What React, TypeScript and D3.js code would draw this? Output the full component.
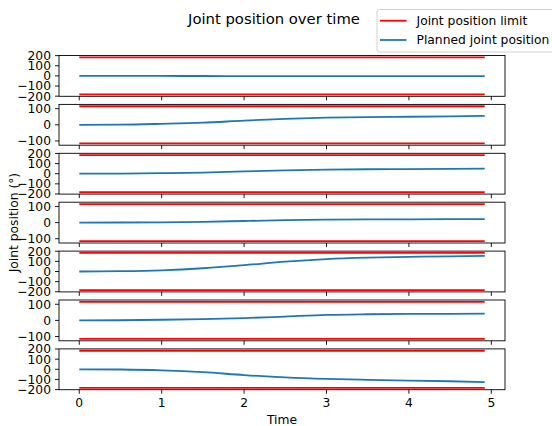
import React from 'react'
import * as d3 from 'd3'

// time stamps of the planned trajectory
const times = [0, 0.5, 1, 1.5, 2, 2.5, 3, 3.5, 4, 4.5, 4.92]

// planned joint positions in degrees, one array per joint
const joint1 = [0, 0, -0.5, -1, -1.5, -2, -2.5, -3, -3, -3, -3]
const joint2 = [0, 1, 6, 13, 26, 37, 44, 48, 50, 52, 55]
const joint3 = [0, 1, 5, 11, 23, 33, 40, 44, 46, 48, 50]
const joint4 = [0, 0.5, 2, 5, 10, 15, 18, 20, 20.5, 21, 22]
const joint5 = [0, 3, 12, 32, 62, 98, 123, 137, 145, 150, 155]
const joint6 = [0, 1, 4, 8, 14, 24, 34, 38, 40, 41, 42]
const joint7 = [0, -2, -10, -28, -57, -80, -95, -104, -111, -118, -127]

const planned = [joint1, joint2, joint3, joint4, joint5, joint6, joint7]
const jointLimits = [183, 115, 183, 115, 183, 115, 183]

const wideTicks = [-200, -100, 0, 100, 200]
const narrowTicks = [-100, 0, 100]
const xTicks = [0, 1, 2, 3, 4, 5]

const W = 552
const H = 426
const left = 59
const right = 505
const firstTop = 55.5
const step = 48.9
const plotH = 40.8

const font = 'DejaVu Sans, sans-serif'
const fs = 12.3
const fmt = d3.format('d')

function Subplot({ idx, values, limit }: { idx: number; values: number[]; limit: number }) {
  const top = firstTop + idx * step
  const bottom = top + plotH
  const last = idx === planned.length - 1

  const [t0, t1] = d3.extent(times) as [number, number]
  const pad = (t1 - t0) * 0.05
  const x = d3.scaleLinear().domain([t0 - pad, t1 + pad]).range([left, right])
  const y = d3.scaleLinear().domain([-limit * 1.1, limit * 1.1]).range([bottom, top])

  const line = d3.line<number>()
    .x((d, i) => x(times[i]))
    .y(d => y(d))
    .curve(d3.curveMonotoneX)

  const yTicks = limit > 150 ? wideTicks : narrowTicks
  const clipId = `clip-${idx}`

  return (
    <g>
      <clipPath id={clipId}>
        <rect x={left} y={top} width={right - left} height={plotH} />
      </clipPath>
      <g clipPath={`url(#${clipId})`}>
        {[limit, -limit].map(l => (
          <line key={l} x1={x(t0)} x2={x(t1)} y1={y(l)} y2={y(l)}
            stroke="#ff0000" strokeWidth={1.8} />
        ))}
        <path d={line(values) || ''} stroke="#1f77b4" strokeWidth={1.8} fill="none" />
      </g>
      <rect x={left} y={top} width={right - left} height={plotH} fill="none" stroke="#000" strokeWidth={0.9} />
      {yTicks.map(v => (
        <g key={v} transform={`translate(${left},${y(v)})`}>
          <line x1={-4} x2={0} stroke="#000" strokeWidth={0.9} />
          <text x={-8} dy="0.36em" textAnchor="end" fontSize={fs} fontFamily={font}>{fmt(v)}</text>
        </g>
      ))}
      {xTicks.map(v => (
        <g key={v} transform={`translate(${x(v)},${bottom})`}>
          <line y1={0} y2={4} stroke="#000" strokeWidth={0.9} />
          {last && (
            <text y={17.8} textAnchor="middle" fontSize={fs} fontFamily={font}>{fmt(v)}</text>
          )}
        </g>
      ))}
    </g>
  )
}

export default function App() {
  const axisMid = (firstTop + (firstTop + (planned.length - 1) * step + plotH)) / 2
  return (
    <svg width={W} height={H} style={{ position: 'absolute', left: 0, top: 0, background: '#fff' }}>
      <rect width={W} height={H} fill="#fff" />
      <text x={274} y={23.8} textAnchor="middle" fontSize={14.8} fontFamily={font}>Joint position over time</text>

      {planned.map((vals, i) => (
        <Subplot key={i} idx={i} values={vals} limit={jointLimits[i]} />
      ))}

      <text x={(left + right) / 2} y={424} textAnchor="middle" fontSize={fs} fontFamily={font}>Time</text>
      <text transform={`translate(17.5,${axisMid}) rotate(-90)`} textAnchor="middle" fontSize={fs} fontFamily={font}>
        Joint position (°)
      </text>

      <g>
        <rect x={377} y={9.5} width={190} height={42.5} rx={2.5} fill="#fff" fillOpacity={0.8} stroke="#cccccc" strokeWidth={0.9} />
        <line x1={380} x2={406.5} y1={20.7} y2={20.7} stroke="#ff0000" strokeWidth={1.8} />
        <text x={416.5} y={25} fontSize={fs} fontFamily={font}>Joint position limit</text>
        <line x1={380} x2={406.5} y1={40} y2={40} stroke="#1f77b4" strokeWidth={1.8} />
        <text x={416.5} y={44.3} fontSize={fs} fontFamily={font}>Planned joint position</text>
      </g>
    </svg>
  )
}
